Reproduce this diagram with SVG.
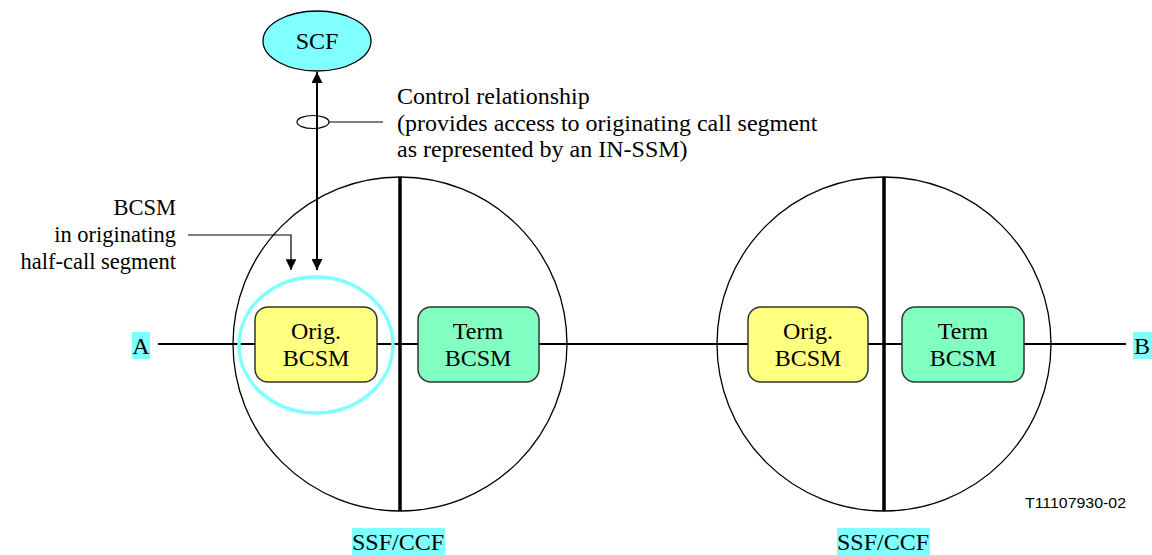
<svg xmlns="http://www.w3.org/2000/svg" width="1152" height="555" viewBox="0 0 1152 555">
  <style>
    text { font-family: "Liberation Serif", "Times New Roman", serif; font-size: 24px; fill: #000; }
    .mid { text-anchor: middle; }
    .end { text-anchor: end; }
    .side { font-size: 22.5px; }
    .code { font-family: "Liberation Sans", Arial, sans-serif; font-size: 15.5px; }
    .ring { fill: none; stroke: #000; stroke-width: 1.3; }
    .divider { stroke: #000; stroke-width: 3.5; }
    .orig { fill: #FFFF80; stroke: #333; stroke-width: 1.5; }
    .term { fill: #80FFC0; stroke: #333; stroke-width: 1.5; }
    .hl { fill: #80FFFF; }
    .wire { stroke: #000; stroke-width: 2; fill: none; }
    .thin { stroke: #000; stroke-width: 1.2; fill: none; }
  </style>
  <defs>
    <marker id="head" viewBox="0 0 10 10" refX="10" refY="5" markerWidth="6.5" markerHeight="5.5" markerUnits="strokeWidth" orient="auto-start-reverse">
      <path d="M0,0 L10,5 L0,10 Z" fill="#000"/>
    </marker>
    <marker id="headSmall" viewBox="0 0 10 10" refX="10" refY="5" markerWidth="10.5" markerHeight="9" markerUnits="strokeWidth" orient="auto">
      <path d="M0,0 L10,5 L0,10 Z" fill="#000"/>
    </marker>
  </defs>

  <!-- switching functions (SSF/CCF) -->
  <g id="ssf-left">
    <circle class="ring" cx="400" cy="344" r="167"/>
    <line class="divider" x1="400" y1="177" x2="400" y2="511"/>
  </g>
  <g id="ssf-right">
    <circle class="ring" cx="884" cy="344" r="167"/>
    <line class="divider" x1="884" y1="177" x2="884" y2="511"/>
  </g>

  <!-- call path A to B -->
  <g id="connectors">
    <line class="wire" x1="158" y1="344" x2="1126" y2="344"/>
    <!-- control relationship SCF <-> originating BCSM -->
    <line class="wire" x1="317" y1="72" x2="317" y2="270" marker-start="url(#head)" marker-end="url(#head)"/>
    <ellipse class="thin" cx="313" cy="122" rx="16" ry="6.5"/>
    <line class="thin" x1="329" y1="122" x2="383" y2="122"/>
    <!-- BCSM pointer -->
    <polyline class="thin" points="188,235 291,235 291,270" marker-end="url(#headSmall)"/>
  </g>

  <!-- IN-SSM boundary around originating BCSM -->
  <g id="in-ssm">
    <ellipse cx="316" cy="345" rx="77" ry="68" fill="none" stroke="#80FFFF" stroke-width="3.5"/>
  </g>

  <g id="scf">
    <ellipse cx="317" cy="41" rx="54" ry="30" fill="#80FFFF" stroke="#000" stroke-width="1.3"/>
    <text class="mid" x="317" y="49">SCF</text>
  </g>

  <g id="orig-bcsm-1">
    <rect class="orig" x="255" y="307" width="122" height="75" rx="13"/>
    <text class="mid" x="316" y="339">Orig.</text>
    <text class="mid" x="316" y="366">BCSM</text>
  </g>
  <g id="term-bcsm-1">
    <rect class="term" x="418" y="307" width="121" height="75" rx="13"/>
    <text class="mid" x="478" y="339">Term</text>
    <text class="mid" x="478" y="366">BCSM</text>
  </g>
  <g id="orig-bcsm-2">
    <rect class="orig" x="748" y="307" width="120" height="75" rx="13"/>
    <text class="mid" x="808" y="339">Orig.</text>
    <text class="mid" x="808" y="366">BCSM</text>
  </g>
  <g id="term-bcsm-2">
    <rect class="term" x="902" y="307" width="122" height="75" rx="13"/>
    <text class="mid" x="963" y="339">Term</text>
    <text class="mid" x="963" y="366">BCSM</text>
  </g>

  <g id="end-a">
    <rect class="hl" x="132" y="332" width="18" height="27"/>
    <text class="mid" x="141" y="354">A</text>
  </g>
  <g id="end-b">
    <rect class="hl" x="1133" y="332" width="19" height="27"/>
    <text class="mid" x="1142" y="354">B</text>
  </g>

  <g id="label-ssf-left">
    <rect class="hl" x="352" y="528" width="93" height="27"/>
    <text class="mid" x="398" y="550">SSF/CCF</text>
  </g>
  <g id="label-ssf-right">
    <rect class="hl" x="837" y="528" width="93" height="27"/>
    <text class="mid" x="883" y="550">SSF/CCF</text>
  </g>

  <g id="label-control">
    <text x="397" y="104">Control relationship</text>
    <text x="397" y="131">(provides access to originating call segment</text>
    <text x="397" y="157">as represented by an IN-SSM)</text>
  </g>
  <g id="label-bcsm">
    <text class="end side" x="176" y="215">BCSM</text>
    <text class="end side" x="176" y="242">in originating</text>
    <text class="end side" x="176" y="269">half-call segment</text>
  </g>

  <text class="code" x="1025" y="508" textLength="101" lengthAdjust="spacingAndGlyphs">T11107930-02</text>
</svg>
